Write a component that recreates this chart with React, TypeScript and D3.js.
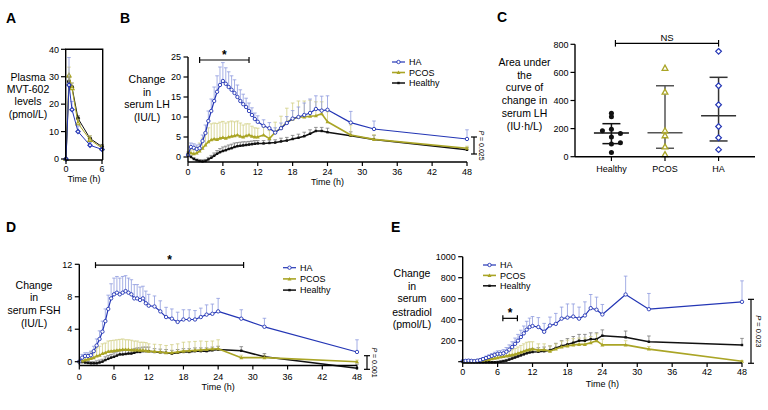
import React from 'react';
import * as d3 from 'd3';

const FONT = '"Liberation Sans", Arial, Helvetica, sans-serif';
const COLORS: Record<string, string> = { HA: '#2436b5', PCOS: '#aaa526', Healthy: '#111111' };
const ERR_COLORS: Record<string, string> = { HA: '#8e9ade', PCOS: '#d2cf85', Healthy: '#7a7a7a' };

// ---------- Panel A ----------
const timesA = [0, 0.5, 1, 2, 4, 6];
const aHA = [0, 27, 18, 10, 5, 3.5];
const aHAerr = [0, 10, 3, 2, 1, 0.8];
const aPCOS = [0, 30.5, 25.8, 13, 7, 4];
const aPCOSerr = [0, 3, 2, 1.5, 1.5, 1];
const aHealthy = [0, 28.2, 26.2, 14.8, 7.5, 4.5];
const aHealthyErr = [0, 1.5, 1.5, 1, 1, 0.8];
const aYTicks = [0, 10, 20, 30, 40];
const aXTicks = [0, 6];

// ---------- Time series (B, D, E) ----------
const times = [0, 0.5, 1, 1.5, 2, 2.5, 3, 3.5, 4, 4.5, 5, 5.5, 6, 6.5, 7, 7.5, 8, 8.5, 9, 9.5, 10, 10.5, 11, 11.5, 12, 13, 14, 15, 16, 17, 18, 19, 20, 21, 22, 23, 24, 28, 32, 48];
const timeTicks = [0, 6, 12, 18, 24, 30, 36, 42, 48];

// B: LH
const lhHA = [0.5, 2.5, 2.3, 2.0, 2.2, 4.0, 6.0, 9.0, 11.5, 14.0, 16.3, 18.0, 19.0, 18.3, 17.5, 16.8, 16.0, 15.0, 14.0, 13.2, 12.5, 11.5, 10.5, 9.5, 8.8, 7.8, 7.2, 6.1, 7.2, 8.5, 9.6, 10.0, 10.5, 11.0, 12.0, 11.6, 11.8, 8.6, 7.0, 4.5];
const lhHAerr = [0.5, 1, 1, 1, 1, 1.5, 2, 2.5, 3, 3.5, 4, 4.5, 4.6, 4, 3.8, 3.5, 3.3, 3, 2.8, 2.5, 2.2, 2, 1.8, 1.5, 1.5, 1.5, 1.4, 1.2, 1.3, 1.6, 2, 2.5, 3, 3.5, 3.3, 3.6, 3.5, 2.8, 2, 2.3];
const lhPCOS = [1, 1, 0.8, 1, 1.5, 2.2, 3, 3.8, 4.3, 4.5, 4.4, 4.7, 4.9, 4.7, 5, 5.2, 5.3, 5.5, 5.2, 5, 5.3, 5.5, 5.2, 5, 5, 5.5, 4.6, 6.2, 7.2, 8.7, 9.5, 10, 10, 10.2, 10.3, 10.8, 8.8, 5.5, 4.4, 2.2];
const lhPCOSerr = [0.3, 0.8, 1, 1.5, 2, 2.5, 3, 3.5, 4, 4, 4, 4, 4, 3.8, 3.8, 3.8, 3.5, 3.5, 3.3, 3, 3, 2.8, 2.5, 2.3, 2.2, 2, 2, 2.5, 3, 3.5, 4, 4, 4, 4, 3.5, 3, 2.5, 2.5, 1.2, 0.5];
const lhHealthy = [0.5, 0, -0.5, -0.8, -1, -1.1, -1, -0.6, -0.2, 0.3, 0.8, 1.2, 1.5, 1.7, 2, 2.2, 2.5, 2.7, 2.8, 2.9, 3, 3.1, 3.2, 3.3, 3.4, 3.4, 3.5, 3.6, 3.9, 4.1, 4.5, 4.8, 5.2, 5.8, 6.5, 6.5, 6.2, 5.3, 4.4, 1.8];
const lhHealthyErr = [0.3, 0.3, 0.3, 0.3, 0.3, 0.4, 0.4, 0.5, 0.6, 0.7, 0.8, 0.9, 1, 1, 1, 1, 1, 0.9, 0.9, 0.9, 0.8, 0.8, 0.8, 0.8, 0.7, 0.7, 0.7, 0.7, 0.8, 0.8, 0.9, 0.9, 1, 1, 0.9, 0.9, 1, 1, 1, 0.6];
const lhYTicks = [0, 5, 10, 15, 20, 25];

// D: FSH
const fshHA = [0, 0.5, 0.7, 0.7, 0.8, 1.3, 2, 2.8, 3.7, 5, 6.5, 7.8, 8.3, 8.5, 8.3, 8.5, 8.7, 8.5, 8.3, 7.8, 7.8, 7.6, 7.8, 7.2, 6.9, 6.8, 6.2, 5.5, 5.3, 4.9, 5.2, 5.2, 5.2, 5.5, 5.8, 5.9, 6.2, 5.3, 4.3, 1.2];
const fshHAerr = [0.1, 0.4, 0.4, 0.4, 0.5, 0.6, 0.8, 1, 1.3, 1.5, 1.7, 1.8, 2, 2, 2, 2, 1.9, 1.8, 1.8, 1.7, 1.7, 1.6, 1.5, 1.5, 1.4, 1.3, 1.3, 1.2, 1.2, 1.2, 1.2, 1.2, 1.1, 1.1, 1.2, 1.2, 1.6, 1.1, 1.05, 1.5];
const fshPCOS = [0, 0.1, 0.2, 0.3, 0.4, 0.5, 0.7, 0.8, 1, 1.1, 1.25, 1.3, 1.35, 1.4, 1.45, 1.5, 1.5, 1.5, 1.45, 1.45, 1.45, 1.4, 1.4, 1.35, 1.3, 1.25, 1.2, 1.1, 1.1, 1.2, 1.3, 1.35, 1.4, 1.45, 1.5, 1.55, 1.6, 0.5, 0.5, 0];
const fshPCOSerr = [0.1, 0.4, 0.5, 0.6, 0.8, 0.9, 1, 1.1, 1.2, 1.2, 1.3, 1.3, 1.3, 1.3, 1.3, 1.3, 1.2, 1.2, 1.2, 1.1, 1.1, 1, 1, 1, 0.9, 0.9, 0.9, 0.9, 1, 1, 1.1, 1.1, 1.1, 1.1, 1, 1, 1.1, 0.3, 0.3, 0.2];
const fshHealthy = [0, -0.05, -0.1, -0.15, -0.2, -0.2, -0.2, -0.1, 0, 0.2, 0.35, 0.5, 0.6, 0.75, 0.9, 0.9, 0.95, 1, 1, 1.1, 1.2, 1.2, 1.3, 1.3, 1.3, 1.2, 1.15, 1.1, 1, 1.1, 1.2, 1.2, 1.3, 1.3, 1.3, 1.4, 1.5, 1.35, 0.6, -0.8];
const fshHealthyErr = [0.1, 0.2, 0.2, 0.2, 0.2, 0.2, 0.3, 0.3, 0.3, 0.4, 0.4, 0.4, 0.5, 0.5, 0.5, 0.5, 0.5, 0.5, 0.5, 0.5, 0.5, 0.5, 0.5, 0.5, 0.5, 0.4, 0.4, 0.4, 0.4, 0.4, 0.4, 0.4, 0.4, 0.4, 0.4, 0.4, 0.4, 0.5, 0.4, 0.5];
const fshYTicks = [0, 4, 8, 12];

// E: estradiol
const e2HA = [5, 8, 10, 8, 5, 10, 15, 25, 35, 45, 55, 65, 75, 75, 80, 95, 115, 140, 170, 200, 235, 270, 305, 330, 340, 330, 285, 345, 360, 410, 420, 430, 410, 440, 510, 495, 450, 640, 500, 570];
const e2HAerr = [5, 8, 8, 8, 8, 10, 12, 15, 18, 20, 22, 25, 28, 30, 35, 40, 45, 50, 55, 60, 65, 70, 80, 85, 90, 90, 80, 80, 100, 110, 130, 120, 110, 130, 130, 120, 95, 175, 150, 200];
const e2PCOS = [0, 0, 0, 2, 5, 8, 12, 15, 18, 22, 28, 33, 38, 45, 50, 55, 60, 65, 70, 80, 90, 100, 110, 115, 120, 110, 115, 100, 120, 140, 150, 160, 165, 165, 180, 200, 160, 160, 120, 5];
const e2PCOSerr = [3, 5, 5, 8, 10, 12, 15, 18, 20, 20, 22, 25, 25, 30, 35, 40, 45, 50, 55, 60, 65, 70, 75, 75, 70, 60, 55, 50, 50, 55, 55, 60, 60, 60, 60, 65, 55, 40, 25, 5];
const e2Healthy = [0, -2, -4, -5, -5, -5, -5, -5, -5, -5, -5, -5, -3, 0, 5, 10, 20, 30, 40, 50, 60, 70, 80, 88, 92, 95, 100, 110, 130, 150, 165, 180, 200, 200, 215, 215, 248, 232, 190, 159];
const e2HealthyErr = [3, 3, 3, 3, 3, 3, 3, 3, 3, 3, 3, 3, 5, 8, 10, 12, 15, 18, 20, 22, 25, 28, 30, 32, 35, 38, 40, 40, 45, 50, 55, 60, 60, 60, 60, 60, 55, 60, 55, 63];
const e2YTicks = [0, 200, 400, 600, 800, 1000];

// ---------- Panel C ----------
const cCategories = ['Healthy', 'PCOS', 'HA'];
const cHealthy = [310, 285, 185, 195, 165, 140, 90, 100, 30];
const cHealthySlot = [0, 0, -1, 0, 1, 0, 0, 1, 0];
const cPCOS = [630, 460, 185, 150, 70, 15];
const cHA = [750, 505, 370, 215, 135, 50];
const cCenter = [168, 170, 292];
const cLow = [93, 60, 112];
const cHigh = [235, 505, 565];
const cYTicks = [0, 200, 400, 600, 800];

type MarkerType = 'circleOpen' | 'tri' | 'triOpen' | 'diamondOpen' | 'dot' | 'square';

function Marker({ type, x, y, color, s = 1 }: { type: MarkerType; x: number; y: number; color: string; s?: number }) {
  switch (type) {
    case 'circleOpen':
      return <circle cx={x} cy={y} r={1.7 * s} fill="#fff" stroke={color} strokeWidth={0.9} />;
    case 'tri': {
      const r = 2 * s;
      return <path d={`M${x},${y - r}L${x + r},${y + r * 0.75}L${x - r},${y + r * 0.75}Z`} fill={color} />;
    }
    case 'triOpen': {
      const r = 3 * s;
      return <path d={`M${x},${y - r}L${x + r * 0.95},${y + r * 0.7}L${x - r * 0.95},${y + r * 0.7}Z`} fill="#fff" stroke={color} strokeWidth={1.3} />;
    }
    case 'diamondOpen': {
      const r = 3 * s;
      return <path d={`M${x},${y - r}L${x + r},${y}L${x},${y + r}L${x - r},${y}Z`} fill="#fff" stroke={color} strokeWidth={1.2} />;
    }
    case 'dot':
      return <circle cx={x} cy={y} r={2.4 * s} fill={color} />;
    default:
      return <rect x={x - 1.2 * s} y={y - 1.2 * s} width={2.4 * s} height={2.4 * s} fill={color} />;
  }
}

type Series = { name: string; values: number[]; errs: number[]; marker: MarkerType; width: number };

type TimeCfg = {
  xRange: [number, number];
  yDomain: [number, number];
  yRange: [number, number];
  axisY: number;
  yTicks: number[];
  showZeroLabel: boolean;
  tickLabelY: number;
  titleY: number;
  series: Series[];
  legend: { x: number; y: number; dy: number };
  sig: { t0: number; t1: number; v: number };
  bracket: { v0: number; v1: number; dx: number; label: string; fs: number };
  yTitle: string[];
  yTitleX: number;
  yTitleY: number[];
  letter: string;
  letterPos: [number, number];
};

function TimePanel({ c }: { c: TimeCfg }) {
  const x = d3.scaleLinear().domain([0, 48]).range(c.xRange);
  const y = d3.scaleLinear().domain(c.yDomain).range(c.yRange);
  const yTop = y(c.yTicks[c.yTicks.length - 1]);
  const drawOrder = [...c.series].reverse();
  const legendOrder = c.series;
  return (
    <g>
      <text x={c.letterPos[0]} y={c.letterPos[1]} fontSize={14} fontWeight="bold">{c.letter}</text>
      {c.yTitle.map((t, i) => (
        <text key={i} x={c.yTitleX} y={c.yTitleY[i]} fontSize={10.5} textAnchor="middle">{t}</text>
      ))}
      {/* error bars */}
      {drawOrder.map((s) => (
        <g key={s.name + 'err'} stroke={ERR_COLORS[s.name]} strokeWidth={0.8} fill="none">
          {s.values.map((v, i) => {
            const xx = x(times[i]);
            const y0 = y(v);
            const y1 = y(v + s.errs[i]);
            return (
              <g key={i}>
                <line x1={xx} x2={xx} y1={y0} y2={y1} />
                <line x1={xx - 1.8} x2={xx + 1.8} y1={y1} y2={y1} />
              </g>
            );
          })}
        </g>
      ))}
      {drawOrder.map((s) => {
        const line = d3.line<number>().x((_, i) => x(times[i])).y((d) => y(d));
        return (
          <g key={s.name}>
            <path d={line(s.values) || ''} fill="none" stroke={COLORS[s.name]} strokeWidth={s.width} strokeLinejoin="round" />
            {s.values.map((v, i) => (
              <Marker key={i} type={s.marker} x={x(times[i])} y={y(v)} color={COLORS[s.name]} />
            ))}
          </g>
        );
      })}
      {/* axes */}
      <line x1={c.xRange[0]} x2={c.xRange[0]} y1={yTop} y2={c.axisY} stroke="#000" strokeWidth={1.4} />
      {c.yTicks.map((t) => (
        <g key={t}>
          <line x1={c.xRange[0] - 4.5} x2={c.xRange[0]} y1={y(t)} y2={y(t)} stroke="#000" strokeWidth={1.2} />
          {(t !== 0 || c.showZeroLabel) && (
            <text x={c.xRange[0] - 7} y={y(t) + 3.2} fontSize={9} textAnchor="end">{t}</text>
          )}
        </g>
      ))}
      <line x1={c.xRange[0]} x2={c.xRange[1]} y1={c.axisY} y2={c.axisY} stroke="#000" strokeWidth={1.4} />
      {timeTicks.map((t) => (
        <g key={t}>
          <line x1={x(t)} x2={x(t)} y1={c.axisY} y2={c.axisY + 4} stroke="#000" strokeWidth={1.2} />
          <text x={x(t)} y={c.tickLabelY} fontSize={9} textAnchor="middle">{t}</text>
        </g>
      ))}
      <text x={x(24)} y={c.titleY} fontSize={9} textAnchor="middle">Time (h)</text>
      {/* legend */}
      {legendOrder.map((s, i) => {
        const ly = c.legend.y + i * c.legend.dy;
        return (
          <g key={s.name + 'lg'}>
            <line x1={c.legend.x} x2={c.legend.x + 13} y1={ly} y2={ly} stroke={COLORS[s.name]} strokeWidth={s.width} />
            <Marker type={s.marker} x={c.legend.x + 6.5} y={ly} color={COLORS[s.name]} />
            <text x={c.legend.x + 17} y={ly + 3.2} fontSize={9}>{s.name}</text>
          </g>
        );
      })}
      {/* significance bar */}
      <g stroke="#000" strokeWidth={1.2}>
        <line x1={x(c.sig.t0)} x2={x(c.sig.t1)} y1={y(c.sig.v)} y2={y(c.sig.v)} />
        <line x1={x(c.sig.t0)} x2={x(c.sig.t0)} y1={y(c.sig.v) - 3} y2={y(c.sig.v) + 3} />
        <line x1={x(c.sig.t1)} x2={x(c.sig.t1)} y1={y(c.sig.v) - 3} y2={y(c.sig.v) + 3} />
      </g>
      <text x={(x(c.sig.t0) + x(c.sig.t1)) / 2} y={y(c.sig.v) - 1.5} fontSize={12} fontWeight="bold" textAnchor="middle">*</text>
      {/* p bracket */}
      {(() => {
        const bx = c.xRange[1] + c.bracket.dx;
        const y0 = y(c.bracket.v0);
        const y1 = y(c.bracket.v1);
        return (
          <g>
            <g stroke="#000" strokeWidth={1.2}>
              <line x1={bx} x2={bx} y1={y0} y2={y1} />
              <line x1={bx - 3} x2={bx + 3} y1={y0} y2={y0} />
              <line x1={bx - 3} x2={bx + 3} y1={y1} y2={y1} />
            </g>
            <text transform={`translate(${bx + 4.5},${(y0 + y1) / 2}) rotate(90)`} fontSize={c.bracket.fs} textAnchor="middle">
              <tspan fontStyle="italic">P</tspan> = {c.bracket.label}
            </text>
          </g>
        );
      })()}
    </g>
  );
}

function PanelA() {
  const x = d3.scaleLinear().domain([0, 6]).range([66, 102]);
  const y = d3.scaleLinear().domain([0, 40]).range([159, 49.3]);
  const series = [
    { name: 'Healthy', values: aHealthy, errs: aHealthyErr, marker: 'dot' as MarkerType, s: 0.85 },
    { name: 'PCOS', values: aPCOS, errs: aPCOSerr, marker: 'triOpen' as MarkerType, s: 0.7 },
    { name: 'HA', values: aHA, errs: aHAerr, marker: 'diamondOpen' as MarkerType, s: 0.7 },
  ];
  const line = d3.line<number>().x((_, i) => x(timesA[i])).y((d) => y(d));
  return (
    <g>
      <text x={6} y={23} fontSize={14} fontWeight="bold">A</text>
      {['Plasma', 'MVT-602', 'levels', '(pmol/L)'].map((t, i) => (
        <text key={i} x={28} y={[81, 93.2, 105.4, 117.6][i]} fontSize={10.5} textAnchor="middle">{t}</text>
      ))}
      {series.map((s) => (
        <g key={s.name}>
          {s.values.map((v, i) => (
            <g key={i} stroke={ERR_COLORS[s.name]} strokeWidth={0.8}>
              <line x1={x(timesA[i])} x2={x(timesA[i])} y1={y(v)} y2={y(v + s.errs[i])} />
              <line x1={x(timesA[i]) - 1.8} x2={x(timesA[i]) + 1.8} y1={y(v + s.errs[i])} y2={y(v + s.errs[i])} />
            </g>
          ))}
          <path d={line(s.values) || ''} fill="none" stroke={COLORS[s.name]} strokeWidth={1} />
          {s.values.map((v, i) => (
            <Marker key={i} type={s.marker} x={x(timesA[i])} y={y(v)} color={COLORS[s.name]} s={s.s} />
          ))}
        </g>
      ))}
      <g stroke="#000" strokeWidth={1.4} fill="none">
        <path d={`M65.7,160V49.3H102.7V160`} />
        <line x1={65.7} x2={102.7} y1={160} y2={160} />
      </g>
      {aYTicks.map((t) => (
        <g key={t}>
          <line x1={61} x2={65.7} y1={y(t)} y2={y(t)} stroke="#000" strokeWidth={1.2} />
          <text x={59} y={y(t) + 3.2} fontSize={9} textAnchor="end">{t}</text>
        </g>
      ))}
      {aXTicks.map((t) => (
        <g key={t}>
          <line x1={x(t)} x2={x(t)} y1={160} y2={164} stroke="#000" strokeWidth={1.2} />
          <text x={x(t)} y={171.5} fontSize={9} textAnchor="middle">{t}</text>
        </g>
      ))}
      <text x={84} y={181.5} fontSize={9} textAnchor="middle">Time (h)</text>
    </g>
  );
}

function PanelC() {
  const x = d3.scalePoint<string>().domain(cCategories).range([575, 755]).padding(0.68);
  const y = d3.scaleLinear().domain([0, 800]).range([156.7, 44.3]);
  const groupsData = [
    { name: 'Healthy', values: cHealthy, slots: cHealthySlot, marker: 'dot' as MarkerType, s: 1.05, lineColor: '#111' },
    { name: 'PCOS', values: cPCOS, slots: cPCOS.map(() => 0), marker: 'triOpen' as MarkerType, s: 1, lineColor: '#555' },
    { name: 'HA', values: cHA, slots: cHA.map(() => 0), marker: 'diamondOpen' as MarkerType, s: 0.95, lineColor: '#333' },
  ];
  const title = ['Area under', 'the', 'curve of', 'change in', 'serum LH', '(IU\u00b7h/L)'];
  return (
    <g>
      <text x={497} y={22} fontSize={14} fontWeight="bold">C</text>
      {title.map((t, i) => (
        <text key={i} x={524.5} y={65.8 + i * 12.8} fontSize={10.5} textAnchor="middle">{t}</text>
      ))}
      {groupsData.map((g, gi) => {
        const cx = x(g.name) as number;
        return (
          <g key={g.name}>
            <g stroke={g.lineColor} strokeWidth={1.5}>
              <line x1={cx} x2={cx} y1={y(cLow[gi])} y2={y(cHigh[gi])} />
              <line x1={cx - 9} x2={cx + 9} y1={y(cLow[gi])} y2={y(cLow[gi])} />
              <line x1={cx - 9} x2={cx + 9} y1={y(cHigh[gi])} y2={y(cHigh[gi])} />
              <line x1={cx - 17.5} x2={cx + 17.5} y1={y(cCenter[gi])} y2={y(cCenter[gi])} />
            </g>
            {g.values.map((v, i) => (
              <Marker key={i} type={g.marker} x={cx + g.slots[i] * 9} y={y(v)} color={COLORS[g.name]} s={g.s} />
            ))}
          </g>
        );
      })}
      <line x1={575} x2={575} y1={44.3} y2={156.7} stroke="#000" strokeWidth={1.4} />
      {cYTicks.map((t) => (
        <g key={t}>
          <line x1={570.5} x2={575} y1={y(t)} y2={y(t)} stroke="#000" strokeWidth={1.2} />
          <text x={568.5} y={y(t) + 3.2} fontSize={9} textAnchor="end">{t}</text>
        </g>
      ))}
      <line x1={575} x2={755} y1={156.7} y2={156.7} stroke="#000" strokeWidth={1.5} />
      {cCategories.map((cat) => (
        <g key={cat}>
          <line x1={x(cat) as number} x2={x(cat) as number} y1={156.7} y2={161} stroke="#000" strokeWidth={1.2} />
          <text x={x(cat) as number} y={171.5} fontSize={9} textAnchor="middle">{cat}</text>
        </g>
      ))}
      <g stroke="#000" strokeWidth={1.2}>
        <line x1={(x('Healthy') as number) + 4} x2={x('HA') as number} y1={43.3} y2={43.3} />
        <line x1={(x('Healthy') as number) + 4} x2={(x('Healthy') as number) + 4} y1={40} y2={46.6} />
        <line x1={x('HA') as number} x2={x('HA') as number} y1={40} y2={46.6} />
      </g>
      <text x={667} y={40.5} fontSize={9.5} textAnchor="middle">NS</text>
    </g>
  );
}

const panelB: TimeCfg = {
  xRange: [188, 467],
  yDomain: [0, 25],
  yRange: [157, 57],
  axisY: 162,
  yTicks: lhYTicks,
  showZeroLabel: true,
  tickLabelY: 175,
  titleY: 184.5,
  series: [
    { name: 'HA', values: lhHA, errs: lhHAerr, marker: 'circleOpen', width: 1.2 },
    { name: 'PCOS', values: lhPCOS, errs: lhPCOSerr, marker: 'tri', width: 1.6 },
    { name: 'Healthy', values: lhHealthy, errs: lhHealthyErr, marker: 'square', width: 1.5 },
  ],
  legend: { x: 392, y: 62, dy: 10.5 },
  sig: { t0: 2, t1: 10.5, v: 24.25 },
  bracket: { v0: 0.75, v1: 5, dx: 7, label: '0.025', fs: 7 },
  yTitle: ['Change', 'in', 'serum LH', '(IU/L)'],
  yTitleX: 147,
  yTitleY: [82.7, 95.7, 108.2, 121.2],
  letter: 'B',
  letterPos: [120, 23],
};

const panelD: TimeCfg = {
  xRange: [79.3, 357],
  yDomain: [0, 12],
  yRange: [361.7, 264.3],
  axisY: 365.5,
  yTicks: fshYTicks,
  showZeroLabel: true,
  tickLabelY: 380,
  titleY: 390,
  series: [
    { name: 'HA', values: fshHA, errs: fshHAerr, marker: 'circleOpen', width: 1.2 },
    { name: 'PCOS', values: fshPCOS, errs: fshPCOSerr, marker: 'tri', width: 1.6 },
    { name: 'Healthy', values: fshHealthy, errs: fshHealthyErr, marker: 'square', width: 1.5 },
  ],
  legend: { x: 283, y: 267.7, dy: 11.2 },
  sig: { t0: 2.8, t1: 28.4, v: 11.9 },
  bracket: { v0: -0.94, v1: 0.74, dx: 10, label: '0.001', fs: 7 },
  yTitle: ['Change', 'in', 'serum FSH', '(IU/L)'],
  yTitleX: 34,
  yTitleY: [288.8, 301.1, 313.8, 327.1],
  letter: 'D',
  letterPos: [6, 232],
};

const panelE: TimeCfg = {
  xRange: [462.7, 742],
  yDomain: [0, 1000],
  yRange: [361.7, 256.7],
  axisY: 363,
  yTicks: e2YTicks,
  showZeroLabel: false,
  tickLabelY: 375,
  titleY: 387,
  series: [
    { name: 'HA', values: e2HA, errs: e2HAerr, marker: 'circleOpen', width: 1.2 },
    { name: 'PCOS', values: e2PCOS, errs: e2PCOSerr, marker: 'tri', width: 1.6 },
    { name: 'Healthy', values: e2Healthy, errs: e2HealthyErr, marker: 'square', width: 1.5 },
  ],
  legend: { x: 483, y: 265, dy: 10.4 },
  sig: { t0: 6.9, t1: 9.4, v: 413 },
  bracket: { v0: -15, v1: 594, dx: 9, label: '0.023', fs: 7.5 },
  yTitle: ['Change', 'in', 'serum', 'estradiol', '(pmol/L)'],
  yTitleX: 412,
  yTitleY: [277.1, 289.5, 302.1, 315.5, 328.1],
  letter: 'E',
  letterPos: [391, 232],
};

export default function App() {
  return (
    <svg
      width={768}
      height={410}
      viewBox="0 0 768 410"
      style={{ position: 'absolute', left: 0, top: 0, display: 'block' }}
      fontFamily={FONT}
    >
      <rect width={768} height={410} fill="#fff" />
      <PanelA />
      <TimePanel c={panelB} />
      <PanelC />
      <TimePanel c={panelD} />
      <TimePanel c={panelE} />
    </svg>
  );
}
